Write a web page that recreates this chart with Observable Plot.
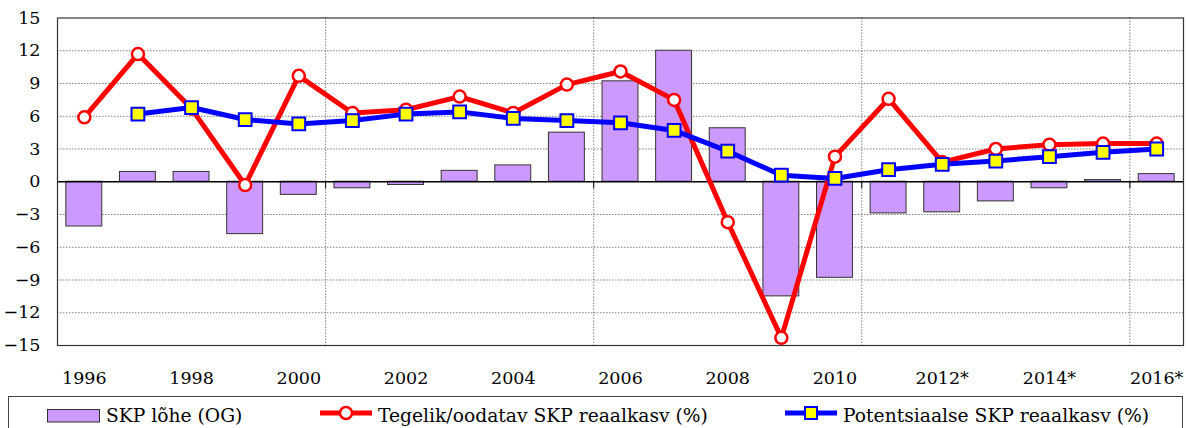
<!DOCTYPE html>
<html><head><meta charset="utf-8">
<script src="https://cdn.jsdelivr.net/npm/d3@7"></script>
<script src="https://cdn.jsdelivr.net/npm/@observablehq/plot@0.6"></script>
<style>
body{margin:0;background:#fff}
#wrap{position:relative;width:1186px;height:428px;overflow:hidden;background:#fff}
#wrap svg{position:absolute;left:0}
</style>
</head><body><div id="wrap"></div>
<script>
const years = ["1996","1997","1998","1999","2000","2001","2002","2003","2004","2005","2006","2007","2008","2009","2010","2011","2012","2013","2014","2015","2016"];
const gapOG = [-4.1, 0.9, 0.9, -4.8, -1.2, -0.6, -0.3, 1.0, 1.5, 4.5, 9.2, 12.0, 4.9, -10.5, -8.8, -2.9, -2.8, -1.8, -0.6, 0.15, 0.7];
const actualGrowth = [5.9, 11.7, 6.7, -0.3, 9.7, 6.3, 6.6, 7.8, 6.3, 8.9, 10.1, 7.5, -3.7, -14.3, 2.3, 7.6, 1.8, 3.0, 3.4, 3.5, 3.5];
const potentialGrowth = [null, 6.2, 6.8, 5.7, 5.3, 5.6, 6.2, 6.4, 5.8, 5.6, 5.4, 4.7, 2.8, 0.6, 0.3, 1.1, 1.6, 1.9, 2.3, 2.7, 3.0];
const xTickYears = ["1996","1998","2000","2002","2004","2006","2008","2010","2012","2014","2016"];
const xTickLabels = ["1996","1998","2000","2002","2004","2006","2008","2010","2012*","2014*","2016*"];
const yTicks = [-15,-12,-9,-6,-3,0,3,6,9,12,15];
const vGridYears = ["2001","2006","2011","2016"];
const legendLabels = ["SKP lõhe (OG)","Tegelik/oodatav SKP reaalkasv (%)","Potentsiaalse SKP reaalkasv (%)"];

const data = years.map((y,i)=>({year:y, og:gapOG[i], actual:actualGrowth[i], potential:potentialGrowth[i]}));

const W=1186, H=395, mL=57, mR=3, mT=17.5, mB=50;
const step = (W-mL-mR)/years.length;
const FONT = "DejaVu Serif";

const chart = Plot.plot({
  width: W, height: H, marginLeft: mL, marginRight: mR, marginTop: mT, marginBottom: mB,
  style: {fontFamily: FONT, fontSize: "17.5px", color: "#000", background: "#fff"},
  x: {type: "band", domain: years, paddingInner: 0.33, paddingOuter: 0.165, round: false},
  y: {domain: [-15, 15]},
  marks: [
    Plot.ruleY(yTicks.filter(v => Math.abs(v) < 15 && v !== 0), {stroke: "#808080", strokeDasharray: "1.5,1.5", strokeWidth: 1}),
    Plot.ruleX(vGridYears, {x: d => d, dx: -step/2, stroke: "#808080", strokeDasharray: "1.5,1.5", strokeWidth: 1}),
    Plot.barY(data, {x: "year", y: "og", fill: "#CC99FF", stroke: "#333", strokeWidth: 1}),
    Plot.ruleY([0], {stroke: "#000", strokeWidth: 1.3}),
    Plot.ruleX(vGridYears, {x: d => d, dx: -step/2, y1: 0, y2: 0, insetBottom: -7, stroke: "#000"}),
    Plot.frame({stroke: "#333", strokeWidth: 1.2}),
    Plot.line(data, {x: "year", y: "actual", stroke: "#FF0000", strokeWidth: 5}),
    Plot.dot(data, {x: "year", y: "actual", r: 6, fill: "#fff", stroke: "#FF0000", strokeWidth: 2.5}),
    Plot.line(data, {x: "year", y: "potential", stroke: "#0000FF", strokeWidth: 5}),
    Plot.dot(data, {x: "year", y: "potential", symbol: "square", r: 7.2, fill: "#FFFF00", stroke: "#0000FF", strokeWidth: 2}),
    Plot.axisY(yTicks, {tickSize: 0, tickPadding: 17, label: null}),
    Plot.axisX(xTickYears, {tickSize: 0, tickPadding: 26, label: null, tickFormat: d => xTickLabels[xTickYears.indexOf(d)]})
  ]
});
chart.style.top = "0px";
const wrap = document.getElementById("wrap");
wrap.appendChild(chart);

// legend
const LT = 395;
const leg = d3.create("svg").attr("width", W).attr("height", 428 - LT)
  .style("top", LT + "px").attr("font-family", FONT).attr("font-size", "18.7px");
leg.append("rect").attr("x", 8.5).attr("y", 1.5).attr("width", 1174).attr("height", 60)
  .attr("fill", "#fff").attr("stroke", "#444").attr("stroke-width", 1);
// bar swatch
leg.append("rect").attr("x", 47.5).attr("y", 14.5).attr("width", 52).attr("height", 12.5)
  .attr("fill", "#CC99FF").attr("stroke", "#333");
leg.append("text").attr("x", 106).attr("y", 27).text(legendLabels[0]);
// red
leg.append("line").attr("x1", 320).attr("x2", 372).attr("y1", 18).attr("y2", 18).attr("stroke", "#FF0000").attr("stroke-width", 5);
leg.append("circle").attr("cx", 346).attr("cy", 18).attr("r", 6).attr("fill", "#fff").attr("stroke", "#FF0000").attr("stroke-width", 2.5);
leg.append("text").attr("x", 378).attr("y", 27).text(legendLabels[1]);
// blue
leg.append("line").attr("x1", 785).attr("x2", 837).attr("y1", 18).attr("y2", 18).attr("stroke", "#0000FF").attr("stroke-width", 5);
leg.append("rect").attr("x", 805).attr("y", 12).attr("width", 12).attr("height", 12).attr("fill", "#FFFF00").attr("stroke", "#0000FF").attr("stroke-width", 2);
leg.append("text").attr("x", 843).attr("y", 27).text(legendLabels[2]);
wrap.appendChild(leg.node());
</script>
</body></html>
